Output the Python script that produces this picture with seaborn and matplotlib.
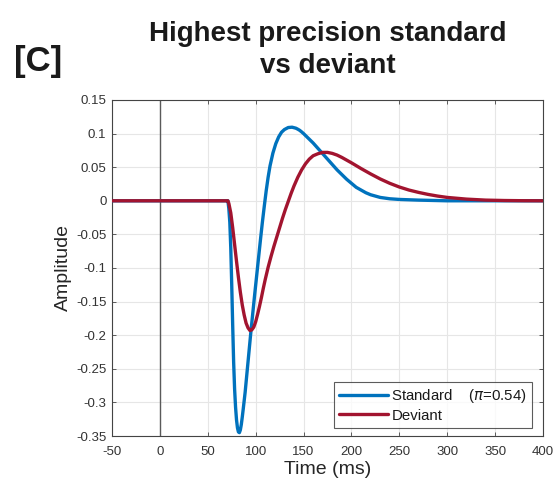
import numpy as np
import pandas as pd
import matplotlib
matplotlib.use("Agg")
import matplotlib.pyplot as plt
import seaborn as sns

# ---- data ----
std_time = [-50, 0, 50, 70, 71, 72, 73, 74, 75, 76, 77, 78, 79, 80, 81, 82, 83, 84, 85, 86,
            87, 89, 91, 93, 95, 97, 99, 101, 103, 105, 107, 109, 111, 113, 115, 118, 121,
            124, 127, 130, 134, 138, 142, 144, 146, 148, 150, 155, 160, 165, 170, 175, 180,
            185, 190, 195, 200, 205, 210, 215, 220, 230, 240, 250, 270, 300, 350, 400]
std_amp = [0, 0, 0, 0, 0, -0.012, -0.032, -0.07, -0.125, -0.185, -0.24, -0.28, -0.307, -0.326,
           -0.338, -0.344, -0.345, -0.341, -0.333, -0.322, -0.31, -0.285, -0.255, -0.225,
           -0.195, -0.167, -0.139, -0.112, -0.085, -0.058, -0.032, -0.008, 0.015, 0.035,
           0.052, 0.071, 0.085, 0.095, 0.102, 0.106, 0.109, 0.1095, 0.108, 0.1065, 0.1048,
           0.1025, 0.100, 0.093, 0.086, 0.078, 0.070, 0.062, 0.054, 0.046, 0.039, 0.032,
           0.026, 0.020, 0.016, 0.012, 0.009, 0.005, 0.003, 0.002, 0.001, 0.0, 0.0, 0.0]

dev_time = [-50, 0, 50, 70, 71, 72, 74, 76, 78, 80, 82, 84, 86, 88, 90, 92, 94, 96, 98, 100,
            102, 104, 106, 108, 110, 113, 116, 119, 122, 125, 128, 131, 134, 137, 140, 144,
            148, 152, 156, 160, 165, 170, 175, 180, 185, 190, 195, 200, 210, 220, 230, 240,
            250, 260, 270, 280, 290, 300, 320, 340, 360, 380, 400]
dev_amp = [0, 0, 0, 0, 0, -0.004, -0.018, -0.04, -0.065, -0.09, -0.114, -0.136, -0.155, -0.17,
           -0.182, -0.189, -0.193, -0.192, -0.188, -0.180, -0.169, -0.157, -0.144, -0.130,
           -0.117, -0.099, -0.083, -0.068, -0.054, -0.040, -0.026, -0.013, -0.001, 0.011,
           0.022, 0.035, 0.046, 0.055, 0.062, 0.067, 0.070, 0.072, 0.072, 0.0705, 0.068,
           0.0645, 0.0605, 0.0565, 0.048, 0.040, 0.0325, 0.026, 0.0205, 0.016, 0.0125,
           0.0095, 0.007, 0.005, 0.0025, 0.001, 0.0004, 0.0001, 0.0]

series_labels = ["Standard    ($\\pi$=0.54)", "Deviant"]
x_ticks = [-50, 0, 50, 100, 150, 200, 250, 300, 350, 400]
y_ticks = [-0.35, -0.3, -0.25, -0.2, -0.15, -0.1, -0.05, 0, 0.05, 0.1, 0.15]
y_tick_labels = ["-0.35", "-0.3", "-0.25", "-0.2", "-0.15", "-0.1", "-0.05", "0", "0.05", "0.1", "0.15"]

df = pd.concat([
    pd.DataFrame({"time": std_time, "amp": std_amp, "series": series_labels[0]}),
    pd.DataFrame({"time": dev_time, "amp": dev_amp, "series": series_labels[1]}),
])

sns.set_theme(style="white")
plt.rcParams["font.family"] = ["Liberation Sans", "DejaVu Sans"]

fig = plt.figure(figsize=(5.55, 4.83), dpi=100)
ax = fig.add_axes([0.2018, 0.0973, 0.7766, 0.6957])

ax.axvline(0, color="#5a5a5a", lw=1.0, zorder=1)
sns.lineplot(data=df, x="time", y="amp", hue="series",
             palette=["#0072BD", "#A2142F"], linewidth=2.4, ax=ax,
             sort=False, estimator=None, zorder=3)

ax.set_xlim(-50, 400)
ax.set_ylim(-0.35, 0.15)
ax.set_xticks(x_ticks)
ax.set_xticklabels([str(v) for v in x_ticks])
ax.set_yticks(y_ticks)
ax.set_yticklabels(y_tick_labels)
ax.grid(True, color="#e6e6e6", lw=0.8, zorder=0)
ax.set_axisbelow(True)
ax.tick_params(direction="in", length=3, width=0.6, color="#444444",
               labelsize=9.5, labelcolor="#333333", top=True, right=True,
               bottom=True, left=True, pad=4)
ax.tick_params(axis="x", pad=7)
for s in ax.spines.values():
    s.set_color("#444444")
    s.set_linewidth(0.8)

ax.set_xlabel("Time (ms)", fontsize=14, color="#262626", labelpad=2)
ax.set_ylabel("Amplitude", fontsize=14, color="#262626", labelpad=3)

leg = ax.legend(loc="lower right", bbox_to_anchor=(0.975, 0.024), borderaxespad=0,
                fontsize=10.8, frameon=True, fancybox=False, edgecolor="#333333",
                handlelength=3.3, handletextpad=0.2, borderpad=0.35,
                labelspacing=0.25, title=None)
leg.get_frame().set_linewidth(0.8)
for t in leg.get_texts():
    t.set_color("#1a1a1a")

fig.text(0.59, 0.897, "Highest precision standard\nvs deviant", ha="center", va="center",
         fontsize=20, fontweight="bold", color="#1a1a1a", linespacing=1.3)
fig.text(0.026, 0.873, "[C]", ha="left", va="center", fontsize=25,
         fontweight="bold", color="#1a1a1a")

fig.savefig("out.png", dpi=100)
